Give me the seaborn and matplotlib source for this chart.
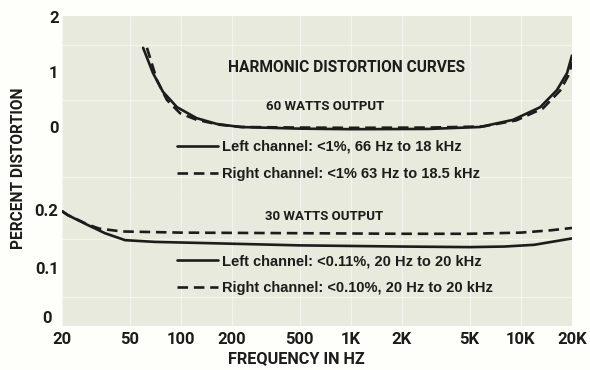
import matplotlib
matplotlib.use("Agg")
import matplotlib.pyplot as plt
from matplotlib.lines import Line2D
from matplotlib import font_manager
import numpy as np
import pandas as pd
import seaborn as sns

# ---- data -------------------------------------------------------------
# 60 W output (upper panel, percent)
w60_freq_left = [60, 68.6, 78.5, 95, 124, 163, 223, 500, 1000, 2900, 5750, 9000, 13000, 16300, 18700, 20000]
w60_left = [1.44, 0.98, 0.64, 0.36, 0.16, 0.055, 0.0, -0.03, -0.04, -0.035, 0.0, 0.13, 0.36, 0.67, 0.98, 1.30]
w60_freq_right = [63.2, 72.4, 82.9, 99, 124, 170, 230, 500, 1000, 2900, 6000, 9400, 13500, 17000, 19300, 20000]
w60_right = [1.44, 0.85, 0.49, 0.25, 0.13, 0.04, 0.0, -0.01, -0.015, -0.01, 0.01, 0.12, 0.34, 0.66, 0.97, 1.18]

# 30 W output (lower panel, percent)
w30_freq_left = [20, 21.7, 28.4, 35.8, 47, 70.5, 138, 500, 2000, 5000, 8000, 12000, 20000]
w30_left = [0.198, 0.191, 0.174, 0.160, 0.148, 0.145, 0.143, 0.139, 0.137, 0.136, 0.137, 0.140, 0.151]
w30_freq_right = [20, 21.7, 28.4, 33, 45, 100, 500, 2000, 5000, 10000, 15000, 20000]
w30_right = [0.198, 0.191, 0.175, 0.168, 0.163, 0.161, 0.160, 0.159, 0.159, 0.161, 0.165, 0.169]

freq_ticks = [20, 50, 100, 200, 500, 1000, 2000, 5000, 10000, 20000]
freq_labels = ["20", "50", "100", "200", "500", "1K", "2K", "5K", "10K", "20K"]
upper_ticks = [0, 1, 2]
upper_labels = ["0", "1", "2"]
lower_ticks = [0.1, 0.2]
lower_labels = ["0.1", "0.2"]

title_text = "HARMONIC DISTORTION CURVES"
w60_title = "60 WATTS OUTPUT"
w30_title = "30 WATTS OUTPUT"
w60_legend = ["Left channel: <1%, 66 Hz to 18 kHz", "Right channel: <1% 63 Hz to 18.5 kHz"]
w30_legend = ["Left channel: <0.11%, 20 Hz to 20 kHz", "Right channel: <0.10%, 20 Hz to 20 kHz"]

# ---- style ------------------------------------------------------------
sns.set_style("white")
INK = "#1c1c1a"
PAPER = "#fefefa"
PANEL = "#e7eadc"

installed = {f.name for f in font_manager.fontManager.ttflist}
narrow = [f for f in ["Liberation Sans Narrow", "DejaVu Sans Condensed", "Roboto", "DejaVu Sans"] if f in installed]
wide = [f for f in ["Liberation Sans", "Roboto", "DejaVu Sans"] if f in installed]
plt.rcParams["font.family"] = narrow
plt.rcParams["font.weight"] = "bold"

W, H = 590, 370
fig = plt.figure(figsize=(W / 100, H / 100), dpi=100, facecolor=PAPER)


def fx(px):
    return px / W


def fy(py):
    return 1 - py / H


left, right, top, split, bottom = 62, 572, 16, 195, 326
ax_top = fig.add_axes([fx(left), fy(split), fx(right - left), (split - top) / H])
ax_bot = fig.add_axes([fx(left), fy(bottom), fx(right - left), (bottom - split) / H])

LW = 1.9
DASH = (4, 2.2)

up = pd.concat([
    pd.DataFrame({"freq": w60_freq_left, "pct": w60_left, "ch": "Left"}),
    pd.DataFrame({"freq": w60_freq_right, "pct": w60_right, "ch": "Right"}),
])
lo = pd.concat([
    pd.DataFrame({"freq": w30_freq_left, "pct": w30_left, "ch": "Left"}),
    pd.DataFrame({"freq": w30_freq_right, "pct": w30_right, "ch": "Right"}),
])

for ax, df in [(ax_top, up), (ax_bot, lo)]:
    ax.set_facecolor(PANEL)
    sns.lineplot(data=df, x="freq", y="pct", style="ch", style_order=["Left", "Right"],
                 dashes={"Left": "", "Right": DASH}, color=INK, lw=LW,
                 estimator=None, sort=False, legend=False, ax=ax)
    ax.set_xscale("log")
    ax.set_xlim(20, 20000)
    ax.set_xlabel("")
    ax.set_ylabel("")
    for s in ax.spines.values():
        s.set_visible(False)
    ax.set_xticks(freq_ticks)
    ax.minorticks_off()
    ax.grid(True, axis="x", color="white", lw=0.9, alpha=0.5)
    ax.tick_params(length=0)

ax_top.set_ylim((127 - split) / 55, (127 - top) / 55)
ax_top.set_yticks(upper_ticks, upper_labels)
ax_top.set_xticklabels([])
ax_top.set_yticks([-0.9, 0.5, 1.5], minor=True)
ax_top.grid(True, axis="y", which="minor", color="white", lw=0.9, alpha=0.5)

ax_bot.set_ylim(0, (bottom - split) / 580)
ax_bot.set_yticks(lower_ticks, lower_labels)
ax_bot.set_xticks(freq_ticks, freq_labels)
ax_bot.set_yticks([0.05, 0.15], minor=True)
ax_bot.grid(True, axis="y", which="minor", color="white", lw=0.9, alpha=0.5)

for ax in (ax_top, ax_bot):
    ax.tick_params(axis="y", pad=2.5, labelsize=12, labelcolor=INK)
    ax.tick_params(axis="x", pad=4.5, labelsize=12, labelcolor=INK)

# zero of the lower scale sits in the corner, raised clear of the "20"
ax_bot.text(-0.02, 0, "0", transform=ax_bot.get_yaxis_transform(), ha="right", va="bottom",
            fontsize=12, color=INK)

# ---- annotations ------------------------------------------------------
fig.text(fx(19), fy(168), "PERCENT DISTORTION", rotation=90, ha="center", va="center",
         fontsize=11.2, color=INK)
fig.text(fx(296), fy(359), "FREQUENCY IN HZ", ha="center", va="center", fontsize=11.7, color=INK)

fig.text(fx(346), fy(68), title_text, ha="center", va="center", fontsize=11.2, color=INK)
fig.text(fx(325), fy(107), w60_title, ha="center", va="center", fontsize=9.5, color=INK)
fig.text(fx(324), fy(217), w30_title, ha="center", va="center", fontsize=9.5, color=INK)


def key(y, dashed):
    ln = Line2D([fx(177), fx(218)], [fy(y), fy(y)], transform=fig.transFigure,
                color=INK, lw=LW)
    if dashed:
        ln.set_dashes(DASH)
    fig.add_artist(ln)


for (y, txt, dashed) in [(146, w60_legend[0], False), (173, w60_legend[1], True),
                         (260, w30_legend[0], False), (287, w30_legend[1], True)]:
    key(y, dashed)
    fig.text(fx(222), fy(y + 1), txt, ha="left", va="center", fontsize=10.5,
             family=wide, color=INK)

fig.savefig("out.png", dpi=100, facecolor=PAPER)
